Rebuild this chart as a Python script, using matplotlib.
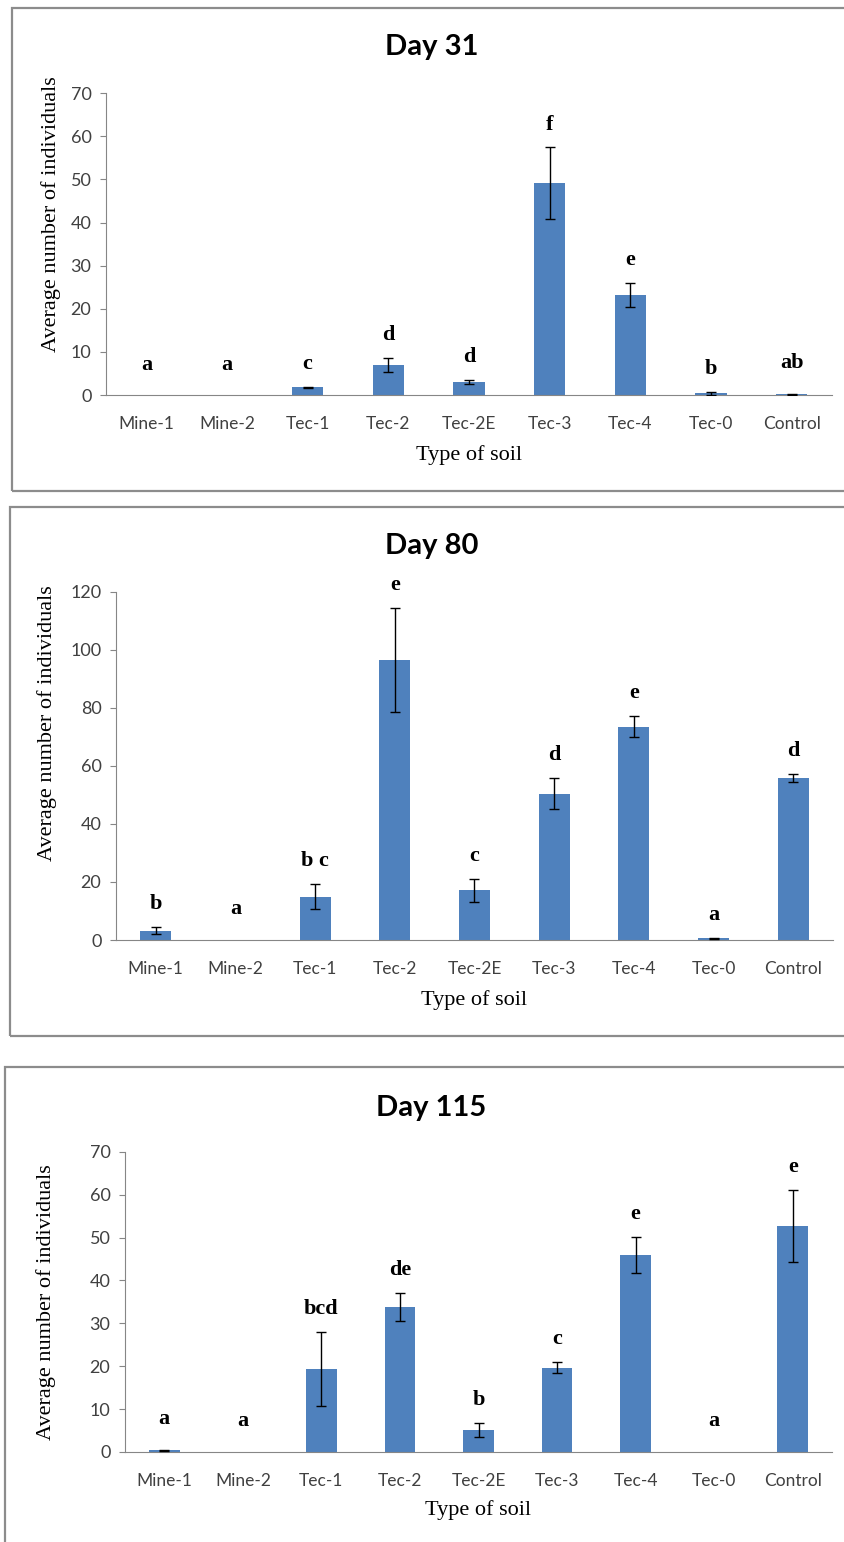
import numpy as np
import matplotlib
matplotlib.use("Agg")
import matplotlib.pyplot as plt
from matplotlib.patches import Rectangle

# soil types along the x axis
soils = ['Mine-1', 'Mine-2', 'Tec-1', 'Tec-2', 'Tec-2E', 'Tec-3', 'Tec-4', 'Tec-0', 'Control']

# Day 31
d31_vals = [0, 0, 1.8, 7.0, 3.1, 49.1, 23.2, 0.4, 0.2]
d31_err = [0, 0, 0.1, 1.6, 0.5, 8.3, 2.8, 0.3, 0.1]
d31_letters = ['a', 'a', 'c', 'd', 'd', 'f', 'e', 'b', 'ab']

# Day 80
d80_vals = [3.2, 0, 14.9, 96.6, 17.1, 50.5, 73.6, 0.6, 55.8]
d80_err = [1.2, 0, 4.3, 18.0, 4.0, 5.5, 3.6, 0.2, 1.4]
d80_letters = ['b', 'a', 'b c', 'e', 'c', 'd', 'e', 'a', 'd']

# Day 115
d115_vals = [0.4, 0, 19.3, 33.8, 5.1, 19.6, 45.9, 0, 52.7]
d115_err = [0.1, 0, 8.6, 3.2, 1.7, 1.3, 4.2, 0, 8.4]
d115_letters = ['a', 'a', 'bcd', 'de', 'b', 'c', 'e', 'a', 'e']

bar_col = '#4F81BD'
axis_col = '#868686'
sans = 'Lato'
serif = 'Liberation Serif'

fig = plt.figure(figsize=(8.44, 15.42), dpi=100)

# panel settings: title, data, axes rect, y max, y step, title y, ylabel coords, xlabel y, box
panels = [
    dict(title='Day 31', vals=d31_vals, err=d31_err, letters=d31_letters,
         rect=[0.1256, 0.7438, 0.8602, 0.1958], ymax=70, step=10, ty=0.9695,
         ylab=(-0.0758, 0.60), xlab=-0.199, box=(0.0142, 0.6816, 0.9948)),
    dict(title='Day 80', vals=d80_vals, err=d80_err, letters=d80_letters,
         rect=[0.1374, 0.3904, 0.8496, 0.2257], ymax=120, step=20, ty=0.6459,
         ylab=(-0.0962, 0.624), xlab=-0.172, box=(0.0118, 0.3281, 0.6712)),
    dict(title='Day 115', vals=d115_vals, err=d115_err, letters=d115_letters,
         rect=[0.1481, 0.0584, 0.8377, 0.1946], ymax=70, step=10, ty=0.2815,
         ylab=(-0.112, 0.5), xlab=-0.193, box=(0.0059, -0.05, 0.3080)),
]

x = np.arange(len(soils))

for p in panels:
    # grey frame around each chart
    bx, by0, by1 = p['box']
    fig.patches.append(Rectangle((bx, by0), 1.1, by1 - by0, transform=fig.transFigure,
                                 fill=False, edgecolor='#8c8c8c', lw=1.6))

    ax = fig.add_axes(p['rect'])
    vals = np.array(p['vals'])
    err = np.array(p['err'])
    ax.bar(x, vals, width=0.39, color=bar_col, zorder=2)
    has = err > 0
    ax.errorbar(x[has], vals[has], yerr=err[has], fmt='none', ecolor='black',
                elinewidth=1.0, capsize=3.6, capthick=1.0, zorder=3)

    tops = vals + err
    for i, (t, lab) in enumerate(zip(tops, p['letters'])):
        off = 22 if t < 0.6 else 16.5
        ax.annotate(lab, (i, t), xytext=(0, off), textcoords='offset points',
                    ha='center', va='center', fontsize=16, fontweight='bold',
                    family=serif, annotation_clip=False)

    ax.set_xlim(-0.5, len(soils) - 0.5)
    ax.set_ylim(0, p['ymax'])
    ax.set_yticks(np.arange(0, p['ymax'] + 1, p['step']))
    ax.set_xticks(x)
    ax.set_xticklabels(soils, fontsize=12.5, family=sans, color='#404040')
    for lab in ax.get_yticklabels():
        lab.set_fontsize(13)
        lab.set_family(sans)
        lab.set_color('#404040')

    ax.spines['top'].set_visible(False)
    ax.spines['right'].set_visible(False)
    ax.spines['left'].set_color(axis_col)
    ax.spines['bottom'].set_color(axis_col)
    ax.tick_params(axis='y', direction='out', length=4.5, color=axis_col, pad=6)
    ax.tick_params(axis='x', length=0, pad=15)

    ax.set_ylabel('Average number of individuals', fontsize=16, family=serif,
                  va='center', ha='center')
    ax.yaxis.set_label_coords(*p['ylab'])
    ax.set_xlabel('Type of soil', fontsize=16, family=serif, va='center')
    ax.xaxis.set_label_coords(0.5, p['xlab'])

    fig.text(0.511, p['ty'], p['title'], ha='center', va='center',
             fontsize=21, fontweight='bold', family=sans)

fig.savefig('out.png', dpi=100)
